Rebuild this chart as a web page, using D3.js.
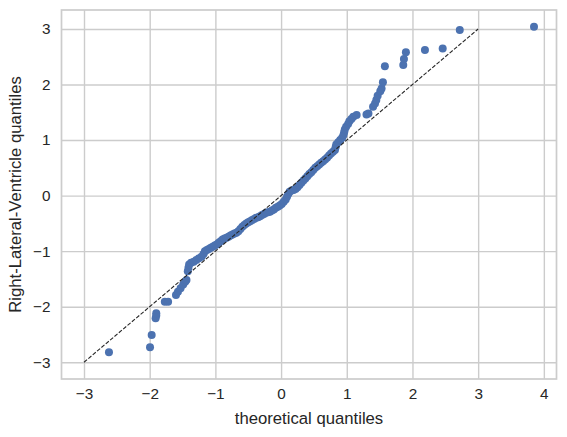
<!DOCTYPE html>
<html>
<head>
<meta charset="utf-8">
<script src="https://cdn.jsdelivr.net/npm/d3@7"></script>
<style>
  body { margin: 0; background: #fff; }
  svg text { font-family: "Liberation Sans", Arial, sans-serif; fill: #262626; }
</style>
</head>
<body>
<div id="chart"></div>
<script>
// theoretical quantiles (x) and sample quantiles (y), sorted
var theoretical = [
  -2.62, -1.995, -1.97, -1.91, -1.90, -1.90, -1.77, -1.72, -1.60, -1.57,
  -1.53, -1.49, -1.46, -1.44, -1.42, -1.41, -1.40, -1.37, -1.33, -1.29,
  -1.25, -1.21, -1.18, -1.16, -1.13, -1.10, -1.07, -1.04, -1.01, -0.98,
  -0.95, -0.92, -0.89, -0.86, -0.83, -0.80, -0.77, -0.74, -0.71, -0.68,
  -0.65, -0.62, -0.59, -0.56, -0.53, -0.50, -0.47, -0.44, -0.41, -0.38,
  -0.35, -0.32, -0.29, -0.26, -0.23, -0.20, -0.17, -0.14, -0.11, -0.08,
  -0.05, -0.02, 0.01, 0.04, 0.07, 0.09, 0.11, 0.13, 0.16, 0.19,
  0.22, 0.25, 0.28, 0.31, 0.34, 0.37, 0.40, 0.43, 0.46, 0.49,
  0.52, 0.55, 0.58, 0.61, 0.64, 0.67, 0.70, 0.73, 0.76, 0.79,
  0.82, 0.83, 0.84, 0.87, 0.90, 0.93, 0.95, 0.96, 0.97, 0.99,
  1.02, 1.04, 1.07, 1.10, 1.15, 1.30, 1.33, 1.40, 1.43, 1.45,
  1.47, 1.51, 1.53, 1.55, 1.58, 1.86, 1.87, 1.90, 2.19, 2.46,
  2.72, 3.85
];
var sample = [
  -2.82, -2.73, -2.51, -2.21, -2.16, -2.12, -1.91, -1.91, -1.79, -1.73,
  -1.67, -1.60, -1.55, -1.52, -1.36, -1.30, -1.24, -1.21, -1.19, -1.16,
  -1.13, -1.10, -1.05, -1.00, -0.98, -0.96, -0.94, -0.92, -0.90, -0.88,
  -0.85, -0.82, -0.79, -0.77, -0.76, -0.74, -0.72, -0.70, -0.68, -0.67,
  -0.64, -0.60, -0.56, -0.53, -0.50, -0.48, -0.46, -0.44, -0.42, -0.40,
  -0.39, -0.37, -0.35, -0.33, -0.31, -0.30, -0.29, -0.27, -0.25, -0.22,
  -0.20, -0.18, -0.15, -0.11, -0.07, -0.02, 0.03, 0.07, 0.09, 0.10,
  0.12, 0.15, 0.19, 0.23, 0.27, 0.31, 0.35, 0.39, 0.42, 0.46,
  0.50, 0.53, 0.56, 0.59, 0.62, 0.65, 0.68, 0.72, 0.76, 0.79,
  0.82, 0.87, 0.92, 0.96, 1.00, 1.04, 1.09, 1.14, 1.19, 1.24,
  1.29, 1.34, 1.38, 1.42, 1.45, 1.46, 1.48, 1.60, 1.66, 1.72,
  1.80, 1.88, 1.93, 2.04, 2.33, 2.35, 2.46, 2.58, 2.62, 2.65,
  2.98, 3.04
];
// 45 degree reference line
var refLine = [-3, 3];
var xTicks = [-3, -2, -1, 0, 1, 2, 3, 4];
var yTicks = [-3, -2, -1, 0, 1, 2, 3];

var width = 567, height = 437;
var margin = {left: 61.5, right: 10.5, top: 10, bottom: 58};

var points = theoretical.map(function(d, i) { return {x: d, y: sample[i]}; });

// matplotlib style 5% padding around data + line
var xExt = d3.extent(theoretical.concat(refLine));
var yExt = d3.extent(sample.concat(refLine));
var xPad = (xExt[1] - xExt[0]) * 0.05, yPad = (yExt[1] - yExt[0]) * 0.05;

var x = d3.scaleLinear()
    .domain([xExt[0] - xPad, xExt[1] + xPad])
    .range([margin.left, width - margin.right]);
var y = d3.scaleLinear()
    .domain([yExt[0] - yPad, yExt[1] + yPad])
    .range([height - margin.bottom, margin.top]);

var fmt = d3.format('d');

var svg = d3.select('#chart').append('svg')
    .attr('width', width)
    .attr('height', height);

// grid
svg.append('g')
    .attr('transform', 'translate(0,' + (height - margin.bottom) + ')')
    .call(d3.axisBottom(x).tickValues(xTicks).tickFormat(fmt).tickSize(-(height - margin.top - margin.bottom)).tickPadding(9))
    .call(function(g) {
        g.select('.domain').remove();
        g.selectAll('.tick line').attr('stroke', '#cccccc').attr('stroke-width', 1.4);
        g.selectAll('.tick text').attr('font-size', '15.3px').attr('fill', '#262626');
    });

svg.append('g')
    .attr('transform', 'translate(' + margin.left + ',0)')
    .call(d3.axisLeft(y).tickValues(yTicks).tickFormat(fmt).tickSize(-(width - margin.left - margin.right)).tickPadding(11))
    .call(function(g) {
        g.select('.domain').remove();
        g.selectAll('.tick line').attr('stroke', '#cccccc').attr('stroke-width', 1.4);
        g.selectAll('.tick text').attr('font-size', '15.3px').attr('fill', '#262626');
    });

// frame
svg.append('rect')
    .attr('x', margin.left)
    .attr('y', margin.top)
    .attr('width', width - margin.left - margin.right)
    .attr('height', height - margin.top - margin.bottom)
    .attr('fill', 'none')
    .attr('stroke', '#cccccc')
    .attr('stroke-width', 1.7);

// points
svg.append('g')
    .selectAll('circle')
    .data(points)
    .enter().append('circle')
        .attr('cx', function(d) { return x(d.x); })
        .attr('cy', function(d) { return y(d.y); })
        .attr('r', 4)
        .attr('fill', '#4c72b0');

// reference line
svg.append('line')
    .attr('x1', x(refLine[0])).attr('y1', y(refLine[0]))
    .attr('x2', x(refLine[1])).attr('y2', y(refLine[1]))
    .attr('stroke', '#262626')
    .attr('stroke-width', 1.1)
    .attr('stroke-dasharray', '4,1.7');

// axis labels
svg.append('text')
    .attr('x', (margin.left + width - margin.right) / 2)
    .attr('y', 424)
    .attr('text-anchor', 'middle')
    .attr('font-size', '16.7px')
    .text('theoretical quantiles');

svg.append('text')
    .attr('transform', 'translate(21,' + (margin.top + height - margin.bottom) / 2 + ') rotate(-90)')
    .attr('text-anchor', 'middle')
    .attr('font-size', '16.7px')
    .text('Right-Lateral-Ventricle quantiles');
</script>
</body>
</html>
